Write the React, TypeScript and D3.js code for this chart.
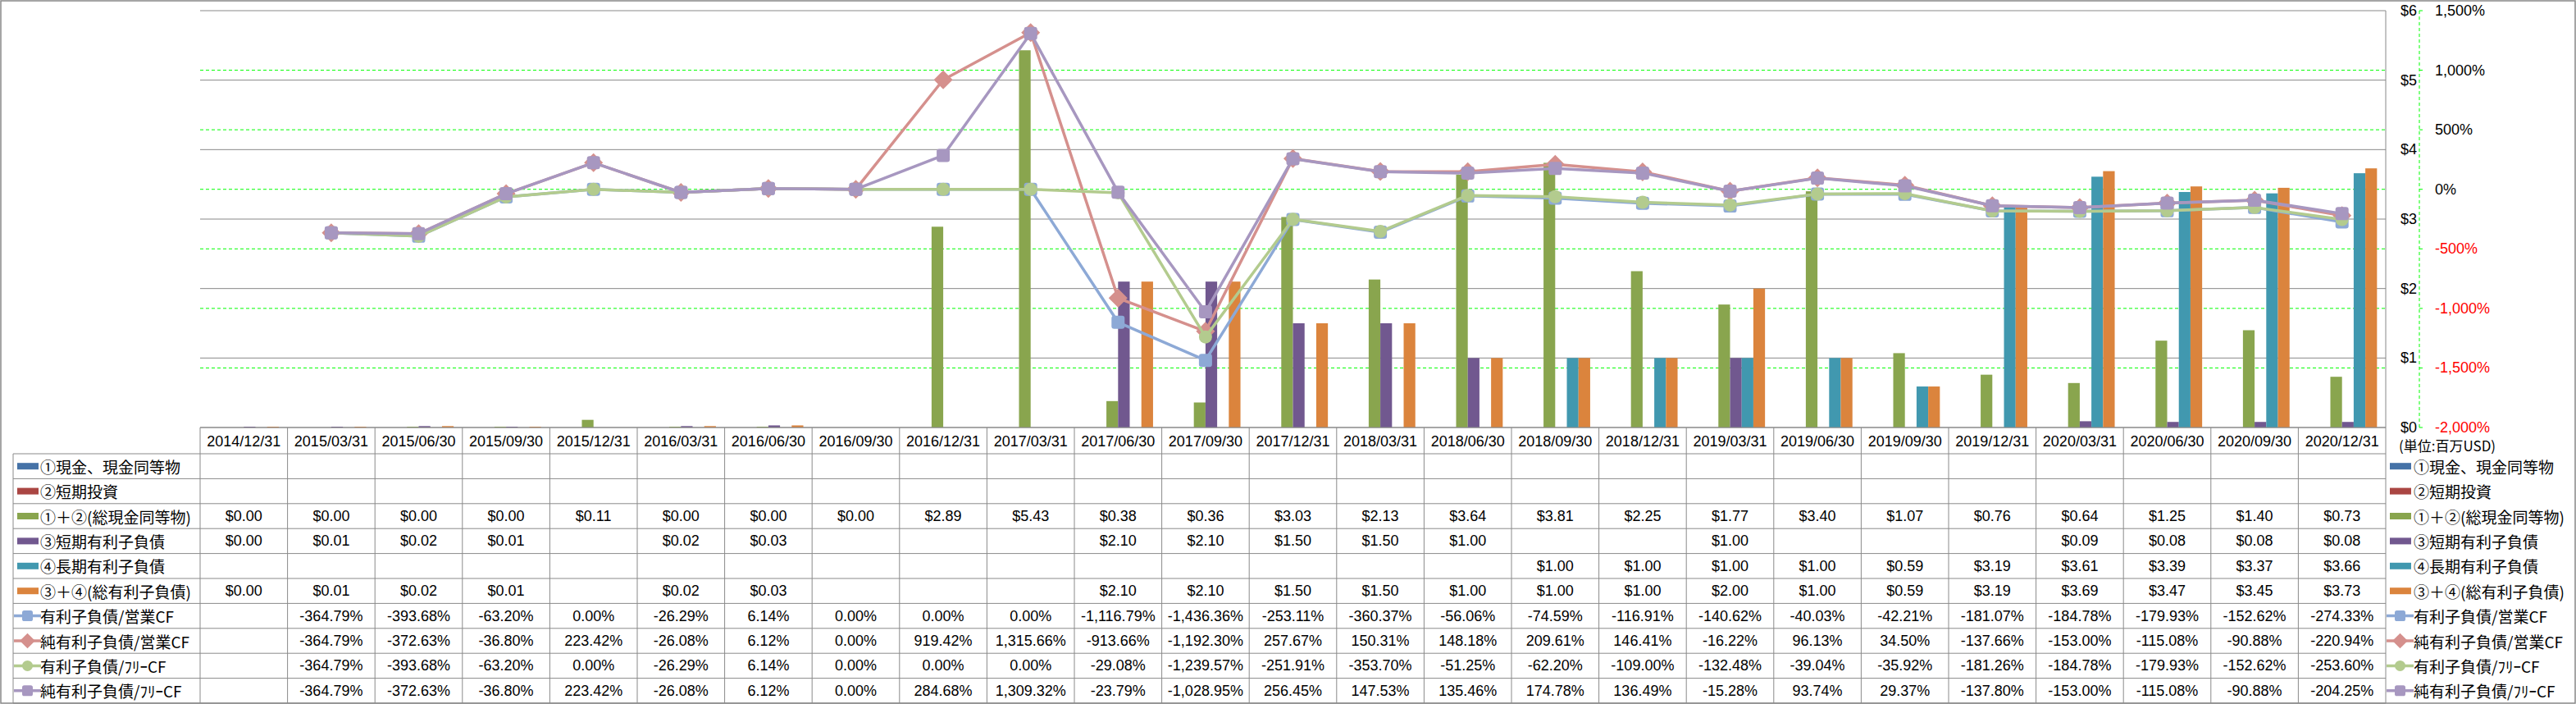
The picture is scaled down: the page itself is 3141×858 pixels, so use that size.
import React from 'react';
import * as d3 from 'd3';

const categories = [
  '2014/12/31', '2015/03/31', '2015/06/30', '2015/09/30', '2015/12/31',
  '2016/03/31', '2016/06/30', '2016/09/30', '2016/12/31', '2017/03/31',
  '2017/06/30', '2017/09/30', '2017/12/31', '2018/03/31', '2018/06/30',
  '2018/09/30', '2018/12/31', '2019/03/31', '2019/06/30', '2019/09/30',
  '2019/12/31', '2020/03/31', '2020/06/30', '2020/09/30', '2020/12/31',
];

type V = number | null;
const N = null;

// values shown as $0.00 but drawn as a hairline bar are kept as tiny non-zero estimates
const cashValues: V[] = [N, N, N, N, N, N, N, N, N, N, N, N, N, N, N, N, N, N, N, N, N, N, N, N, N];
const shortInvestValues: V[] = [N, N, N, N, N, N, N, N, N, N, N, N, N, N, N, N, N, N, N, N, N, N, N, N, N];
const totalCashValues: V[] = [0.0, 0.0, 0.004, 0.004, 0.11, 0.004, 0.004, 0.0, 2.89, 5.43, 0.38, 0.36, 3.03, 2.13, 3.64, 3.81, 2.25, 1.77, 3.4, 1.07, 0.76, 0.64, 1.25, 1.4, 0.73];
const shortDebtValues: V[] = [0.004, 0.01, 0.02, 0.01, N, 0.02, 0.03, N, N, N, 2.1, 2.1, 1.5, 1.5, 1.0, N, N, 1.0, N, N, N, 0.09, 0.08, 0.08, 0.08];
const longDebtValues: V[] = [N, N, N, N, N, N, N, N, N, N, N, N, N, N, N, 1.0, 1.0, 1.0, 1.0, 0.59, 3.19, 3.61, 3.39, 3.37, 3.66];
const totalDebtValues: V[] = [0.004, 0.01, 0.02, 0.01, N, 0.02, 0.03, N, N, N, 2.1, 2.1, 1.5, 1.5, 1.0, 1.0, 1.0, 2.0, 1.0, 0.59, 3.19, 3.69, 3.47, 3.45, 3.73];

const debtOpCF: V[] = [N, -364.79, -393.68, -63.2, 0.0, -26.29, 6.14, 0.0, 0.0, 0.0, -1116.79, -1436.36, -253.11, -360.37, -56.06, -74.59, -116.91, -140.62, -40.03, -42.21, -181.07, -184.78, -179.93, -152.62, -274.33];
const netDebtOpCF: V[] = [N, -364.79, -372.63, -36.8, 223.42, -26.08, 6.12, 0.0, 919.42, 1315.66, -913.66, -1192.3, 257.67, 150.31, 148.18, 209.61, 146.41, -16.22, 96.13, 34.5, -137.66, -153.0, -115.08, -90.88, -220.94];
const debtFreeCF: V[] = [N, -364.79, -393.68, -63.2, 0.0, -26.29, 6.14, 0.0, 0.0, 0.0, -29.08, -1239.57, -251.91, -353.7, -51.25, -62.2, -109.0, -132.48, -39.04, -35.92, -181.26, -184.78, -179.93, -152.62, -253.6];
const netDebtFreeCF: V[] = [N, -364.79, -372.63, -36.8, 223.42, -26.08, 6.12, 0.0, 284.68, 1309.32, -23.79, -1028.95, 256.45, 147.53, 135.46, 174.78, 136.49, -15.28, 93.74, 29.37, -137.8, -153.0, -115.08, -90.88, -204.25];

const moneyTicks = [0, 1, 2, 3, 4, 5, 6];
const pctTicks = [-2000, -1500, -1000, -500, 0, 500, 1000, 1500];
const unitLabel = '(単位:百万USD)';

const barSeries = [
  { name: '①現金、現金同等物', color: '#4572A7', values: cashValues },
  { name: '②短期投資', color: '#AA4643', values: shortInvestValues },
  { name: '①＋②(総現金同等物)', color: '#89A54E', values: totalCashValues },
  { name: '③短期有利子負債', color: '#71588F', values: shortDebtValues },
  { name: '④長期有利子負債', color: '#4198AF', values: longDebtValues },
  { name: '③＋④(総有利子負債)', color: '#DB843D', values: totalDebtValues },
];

const lineSeries = [
  { name: '有利子負債/営業CF', color: '#8DA9D6', marker: 'square', values: debtOpCF },
  { name: '純有利子負債/営業CF', color: '#D5908D', marker: 'diamond', values: netDebtOpCF },
  { name: '有利子負債/ﾌﾘｰCF', color: '#B3CB8E', marker: 'circle', values: debtFreeCF },
  { name: '純有利子負債/ﾌﾘｰCF', color: '#A797C0', marker: 'square', values: netDebtFreeCF },
];

const W = 3141;
const H = 858;
const plotLeft = 244;
const plotRight = 2909;
const plotTop = 13;
const plotBottom = 521;
const headerBottom = 553;
const rowH = 30.4;
const labelLeft = 16;

const LATIN = "'Liberation Sans', Arial, sans-serif";
const JP = "'Noto Sans CJK JP', 'Noto Sans CJK SC', sans-serif";

const fmtMoney = (v: number) => '$' + v.toFixed(2);
const fmtPct = (v: number) => d3.format(',.2f')(v).replace('\u2212', '-') + '%';
const fmtAxisPct = (v: number) => (v < 0 ? '-' : '') + d3.format(',')(Math.abs(v)) + '%';

function Marker({ type, x, y, color, s }: { type: string; x: number; y: number; color: string; s: number }) {
  if (type === 'square') {
    return <rect x={x - s / 2} y={y - s / 2} width={s} height={s} rx={s * 0.2} fill={color} />;
  }
  if (type === 'diamond') {
    const r = s * 0.72;
    return <path d={`M${x},${y - r}L${x + r},${y}L${x},${y + r}L${x - r},${y}Z`} fill={color} />;
  }
  return <circle cx={x} cy={y} r={s / 2} fill={color} />;
}

export default function App() {
  const x = d3.scaleBand<string>().domain(categories).range([plotLeft, plotRight]).paddingInner(0).paddingOuter(0);
  const bw = x.bandwidth();
  const barW = bw / 7.5;
  const xs = d3.scaleBand<number>().domain(d3.range(barSeries.length)).range([-3 * barW, 3 * barW]);
  const yM = d3.scaleLinear().domain([0, 6]).range([plotBottom, plotTop]);
  const yP = d3.scaleLinear().domain([-2000, 1500]).range([plotBottom, plotTop]);
  const cx = (c: string) => (x(c) as number) + bw / 2;

  const rows = [
    ...barSeries.map((s) => ({ kind: 'bar', ...s })),
    ...lineSeries.map((s) => ({ kind: 'line', ...s })),
  ];
  const rowY = (i: number) => headerBottom + i * rowH;
  const tableBottom = rowY(rows.length);
  const axisX = 2950;

  const line = d3
    .line<V>()
    .defined((d) => d != null)
    .x((_, i) => cx(categories[i]))
    .y((d) => yP(d as number));

  return (
    <svg width={W} height={H} style={{ position: 'absolute', left: 0, top: 0, background: '#fff' }}>
      <rect x={0} y={0} width={W} height={H} fill="#fff" />
      <rect x={1} y={1} width={W - 2} height={H - 2} fill="none" stroke="#888" strokeWidth={1.5} />

      {/* gray gridlines */}
      {moneyTicks.map((t) => (
        <line key={'g' + t} x1={plotLeft} x2={plotRight} y1={yM(t)} y2={yM(t)} stroke="#888" strokeWidth={1} />
      ))}
      {/* green dashed gridlines */}
      {pctTicks.filter((t) => t > -2000 && t < 1500).map((t) => (
        <line key={'p' + t} x1={plotLeft} x2={plotRight} y1={yP(t)} y2={yP(t)} stroke="#00FF00" strokeWidth={1} strokeDasharray="4,3" />
      ))}
      <line x1={plotRight} x2={plotRight} y1={plotTop} y2={plotBottom} stroke="#888" strokeWidth={1} />

      {/* bars */}
      {barSeries.map((s, si) =>
        s.values.map((v, i) => {
          if (v == null || v <= 0) return null;
          const h = Math.max(1, yM(0) - yM(v));
          return (
            <rect
              key={`b${si}-${i}`}
              x={cx(categories[i]) + (xs(si) as number)}
              y={yM(0) - h}
              width={barW}
              height={h}
              fill={s.color}
            />
          );
        })
      )}

      {/* lines */}
      {lineSeries.map((s, si) => (
        <g key={'l' + si}>
          <path d={line(s.values) as string} fill="none" stroke={s.color} strokeWidth={3.5} strokeLinejoin="round" />
          {s.values.map((v, i) =>
            v == null ? null : (
              <Marker key={i} type={s.marker} x={cx(categories[i])} y={yP(v)} color={s.color} s={16} />
            )
          )}
        </g>
      ))}

      {/* right axes */}
      <line x1={axisX} x2={axisX} y1={plotTop} y2={plotBottom} stroke="#00FF00" strokeWidth={1} strokeDasharray="4,3" />
      {pctTicks.map((t) => (
        <line key={'tk' + t} x1={axisX} x2={axisX + 4} y1={yP(t)} y2={yP(t)} stroke="#00FF00" strokeWidth={1} />
      ))}
      {moneyTicks.map((t) => (
        <text key={'ml' + t} x={2947} y={yM(t)} textAnchor="end" dominantBaseline="central" fontFamily={LATIN} fontSize={18} fill="#000">
          {'$' + t}
        </text>
      ))}
      {pctTicks.map((t) => (
        <text key={'pl' + t} x={2969} y={yP(t)} dominantBaseline="central" fontFamily={LATIN} fontSize={18} fill={t < 0 ? '#FF0000' : '#000'}>
          {fmtAxisPct(t)}
        </text>
      ))}
      <text x={2925} y={542} dominantBaseline="central" fontFamily={JP} fontSize={17} fill="#000">
        {unitLabel}
      </text>

      {/* data table */}
      <g stroke="#8a8a8a" strokeWidth={1} fill="none">
        <line x1={plotLeft} x2={plotRight} y1={plotBottom} y2={plotBottom} />
        {rows.map((_, i) => (
          <line key={'rh' + i} x1={labelLeft} x2={plotRight} y1={rowY(i)} y2={rowY(i)} />
        ))}
        <line x1={labelLeft} x2={plotRight} y1={tableBottom} y2={tableBottom} />
        <line x1={labelLeft} x2={labelLeft} y1={headerBottom} y2={tableBottom} />
        {categories.map((c) => (
          <line key={'cv' + c} x1={x(c) as number} x2={x(c) as number} y1={plotBottom} y2={tableBottom} />
        ))}
        <line x1={plotRight} x2={plotRight} y1={plotBottom} y2={tableBottom} />
      </g>
      {categories.map((c) => (
        <text key={'h' + c} x={cx(c)} y={(plotBottom + headerBottom) / 2 + 1} textAnchor="middle" dominantBaseline="central" fontFamily={LATIN} fontSize={18} fill="#000">
          {c}
        </text>
      ))}
      {rows.map((r, ri) => {
        const yc = rowY(ri) + rowH / 2;
        return (
          <g key={'row' + ri}>
            {r.values.map((v, i) =>
              v == null ? null : (
                <text key={i} x={cx(categories[i])} y={yc} textAnchor="middle" dominantBaseline="central" fontFamily={LATIN} fontSize={18} fill="#000">
                  {r.kind === 'bar' ? fmtMoney(v) : fmtPct(v)}
                </text>
              )
            )}
            {[{ kx: 21, tx: 49 }, { kx: 2914, tx: 2943 }].map((p, pi) => (
              <g key={'lg' + pi}>
                {r.kind === 'bar' ? (
                  <rect x={p.kx} y={yc - 4} width={26} height={8} fill={r.color} />
                ) : (
                  <g>
                    <line x1={p.kx - 4} x2={p.kx + 29} y1={yc} y2={yc} stroke={r.color} strokeWidth={3.5} />
                    <Marker type={(r as any).marker} x={p.kx + 12.5} y={yc} color={r.color} s={13} />
                  </g>
                )}
                <text x={p.tx} y={yc} dominantBaseline="central" fontFamily={JP} fontSize={19} fill="#000">
                  {r.name}
                </text>
              </g>
            ))}
          </g>
        );
      })}
    </svg>
  );
}
